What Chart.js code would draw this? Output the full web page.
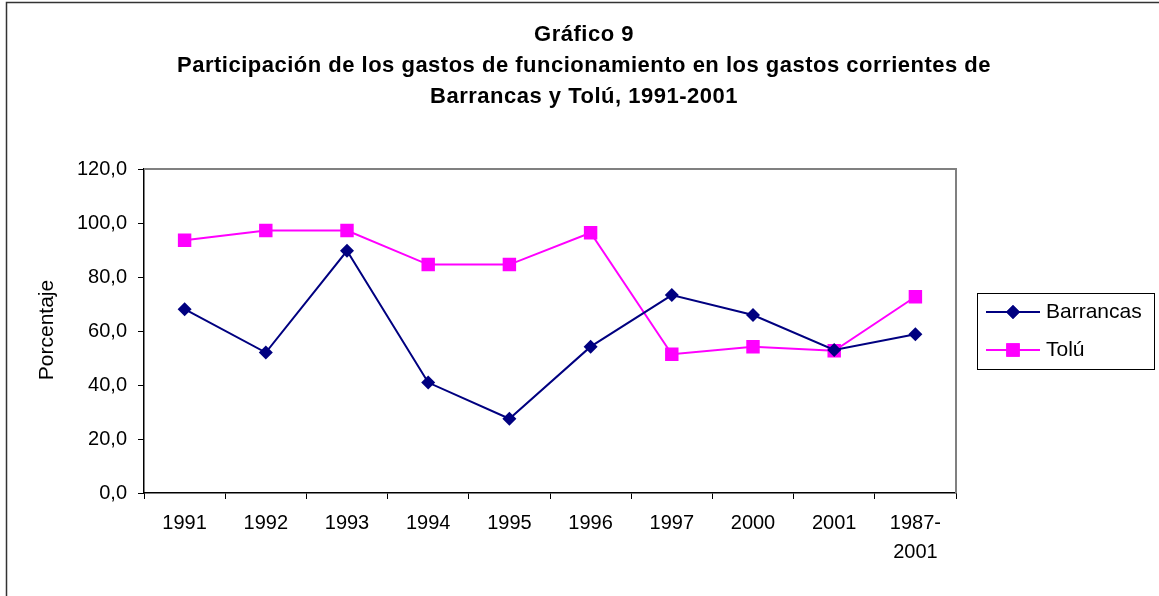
<!DOCTYPE html>
<html>
<head>
<meta charset="utf-8">
<script src="https://cdn.jsdelivr.net/npm/chart.js@4.4.1/dist/chart.umd.min.js"></script>
<style>
  html, body { margin: 0; padding: 0; background: #fff; }
  #wrap { position: relative; width: 1159px; height: 596px; }
</style>
</head>
<body>
<div id="wrap"><canvas id="c" width="1159" height="596"></canvas></div>
<script>
const categories = ['1991', '1992', '1993', '1994', '1995', '1996', '1997', '2000', '2001', ['1987-', '2001']];
const barrancas = [68.1, 52.0, 89.7, 40.9, 27.5, 54.2, 73.3, 65.9, 53.0, 58.8];
const tolu = [93.6, 97.2, 97.2, 84.6, 84.6, 96.4, 51.4, 54.2, 52.7, 72.7];
const yTicks = [0, 20, 40, 60, 80, 100, 120];
const titleLines = ['Gráfico 9', 'Participación de los gastos de funcionamiento en los gastos corrientes de', 'Barrancas y Tolú, 1991-2001'];
const yTitle = 'Porcentaje';
const seriesNames = ['Barrancas', 'Tolú'];

const NAVY = '#000080';
const MAGENTA = '#FF00FF';
const FONT = '"Liberation Sans", Arial, sans-serif';

const decor = {
  id: 'decor',
  beforeDraw(chart) {
    const ctx = chart.ctx;
    ctx.save();
    ctx.strokeStyle = '#333';
    ctx.lineWidth = 1.5;
    ctx.beginPath();
    ctx.moveTo(6.5, 700);
    ctx.lineTo(6.5, 2.5);
    ctx.lineTo(1200, 2.5);
    ctx.stroke();
    ctx.restore();
  },
  afterDraw(chart) {
    const ctx = chart.ctx;
    const a = chart.chartArea;
    ctx.save();
    ctx.strokeStyle = '#808080';
    ctx.lineWidth = 2;
    ctx.beginPath();
    ctx.moveTo(a.left, a.top);
    ctx.lineTo(a.right, a.top);
    ctx.lineTo(a.right, a.bottom);
    ctx.stroke();
    // title
    ctx.fillStyle = '#000';
    ctx.textAlign = 'center';
    ctx.textBaseline = 'middle';
    ctx.font = 'bold 22px ' + FONT;
    ctx.letterSpacing = '0.5px';
    const ty = [35, 66, 97];
    titleLines.forEach((t, i) => ctx.fillText(t, 584, ty[i]));
    ctx.letterSpacing = '0px';
    // y title
    ctx.font = '21px ' + FONT;
    ctx.save();
    ctx.translate(47, 330);
    ctx.rotate(-Math.PI / 2);
    ctx.fillText(yTitle, 0, 0);
    ctx.restore();
    // legend
    ctx.strokeStyle = '#000';
    ctx.lineWidth = 1;
    ctx.strokeRect(977.5, 293.5, 177, 76);
    const items = [
      { name: seriesNames[0], color: NAVY, style: 'rectRot', r: 7, y: 312 },
      { name: seriesNames[1], color: MAGENTA, style: 'rect', r: 9.5, y: 350 }
    ];
    items.forEach(it => {
      ctx.strokeStyle = it.color;
      ctx.lineWidth = 2;
      ctx.beginPath();
      ctx.moveTo(986, it.y);
      ctx.lineTo(1040, it.y);
      ctx.stroke();
      ctx.fillStyle = it.color;
      Chart.helpers.drawPoint(ctx, { pointStyle: it.style, radius: it.r, borderWidth: 0 }, 1013, it.y);
      ctx.fill();
      ctx.fillStyle = '#000';
      ctx.textAlign = 'left';
      ctx.textBaseline = 'middle';
      ctx.font = '21px ' + FONT;
      ctx.fillText(it.name, 1046, it.y);
    });
    ctx.restore();
  }
};

new Chart(document.getElementById('c'), {
  type: 'line',
  data: {
    labels: categories,
    datasets: [
      {
        label: seriesNames[0],
        data: barrancas,
        borderColor: NAVY,
        backgroundColor: NAVY,
        borderWidth: 2,
        pointStyle: 'rectRot',
        pointRadius: 7,
        pointBorderWidth: 0,
        pointBackgroundColor: NAVY,
        tension: 0
      },
      {
        label: seriesNames[1],
        data: tolu,
        borderColor: MAGENTA,
        backgroundColor: MAGENTA,
        borderWidth: 2,
        pointStyle: 'rect',
        pointRadius: 9.5,
        pointBorderWidth: 0,
        pointBackgroundColor: MAGENTA,
        tension: 0
      }
    ]
  },
  options: {
    responsive: false,
    animation: false,
    devicePixelRatio: 1,
    layout: { padding: { left: 6, top: 169, right: 203, bottom: 0 } },
    plugins: {
      legend: { display: false },
      title: { display: false },
      tooltip: { enabled: false }
    },
    scales: {
      x: {
        type: 'category',
        offset: true,
        grid: { offset: true, drawOnChartArea: false, drawTicks: true, tickLength: 6, color: '#000', tickWidth: 1 },
        border: { display: true, color: '#000', width: 1.5 },
        ticks: { color: '#000', font: { family: FONT, size: 20, lineHeight: 1.45 }, padding: 10, maxRotation: 0, autoSkip: false },
        afterFit(s) { s.height = 103; }
      },
      y: {
        min: 0,
        max: 120,
        afterBuildTicks(s) { s.ticks = yTicks.map(v => ({ value: v })); },
        grid: { drawOnChartArea: false, drawTicks: true, tickLength: 6, color: '#000', tickWidth: 1 },
        border: { display: true, color: '#000', width: 1.5 },
        ticks: {
          color: '#000',
          font: { family: FONT, size: 20 },
          padding: 11,
          callback: v => v.toFixed(1).replace('.', ',')
        },
        afterFit(s) { s.width = 138; }
      }
    }
  },
  plugins: [decor]
});
</script>
</body>
</html>
